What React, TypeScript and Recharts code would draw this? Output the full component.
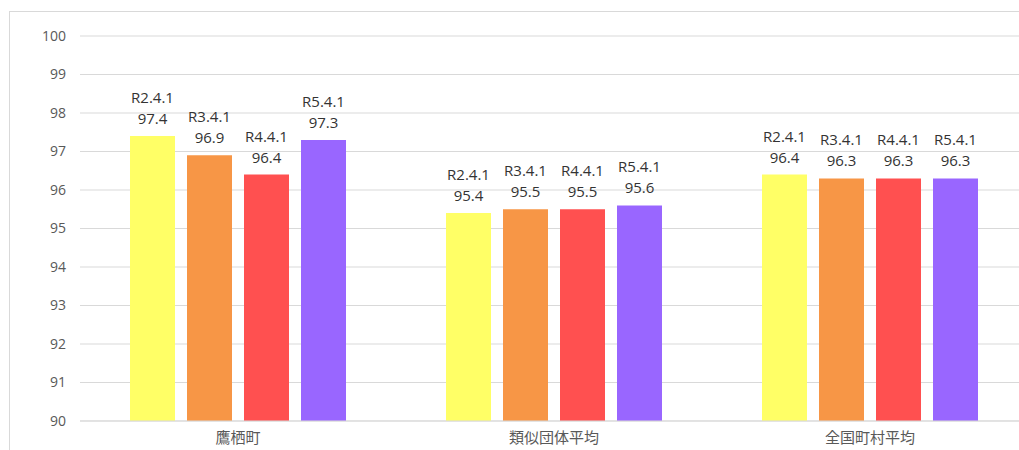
import React from 'react';
import { BarChart, Bar, XAxis, YAxis, CartesianGrid, LabelList } from 'recharts';

// 住民基本台帳 -- values
const categories = ['鷹栖町', '類似団体平均', '全国町村平均'];
const periods = ['R2.4.1', 'R3.4.1', 'R4.4.1', 'R5.4.1'];
const r2Values = [97.4, 95.4, 96.4];
const r3Values = [96.9, 95.5, 96.3];
const r4Values = [96.4, 95.5, 96.3];
const r5Values = [97.3, 95.6, 96.3];
const yTicks = [90, 91, 92, 93, 94, 95, 96, 97, 98, 99, 100];

const COLORS = ['#FFFF66', '#F79646', '#FF5050', '#9966FF'];
const FONT = '"Open Sans", "Noto Sans CJK JP", sans-serif';

const seriesValues = [r2Values, r3Values, r4Values, r5Values];
const data = categories.map((name, i) => {
  const row: Record<string, string | number> = { name };
  periods.forEach((p, k) => {
    row[p] = seriesValues[k][i];
  });
  return row;
});

/* two-line label above each bar: period name, then value */
const makeLabel = (period: string) => (props: any) => {
  const { x, y, width, value } = props;
  const cx = Number(x) + Number(width) / 2;
  return (
    <text textAnchor="middle" fill="#333333" fontSize={15} fontFamily={FONT}>
      <tspan x={cx} y={Number(y) - 33}>{period}</tspan>
      <tspan x={cx} y={Number(y) - 12}>{Number(value).toFixed(1)}</tspan>
    </text>
  );
};

export default function App() {
  return (
    <div style={{ position: 'absolute', left: 0, top: 0, width: 1019, height: 450, overflow: 'hidden', background: '#fff' }}>
      {/* chart frame */}
      <div
        style={{
          position: 'absolute',
          left: 9,
          top: 11,
          width: 1040,
          height: 460,
          borderLeft: '1px solid #d9d9d9',
          borderTop: '1px solid #d9d9d9',
        }}
      />
      <div style={{ position: 'absolute', left: 0, top: 0 }}>
        <BarChart
          width={1028}
          height={450}
          data={data}
          margin={{ top: 36, right: 0, bottom: 0, left: 0 }}
          barGap={12}
          barSize={45}
        >
          <CartesianGrid vertical={false} stroke="#d9d9d9" strokeWidth={1} />
          <XAxis
            dataKey="name"
            height={29}
            tickLine={false}
            tickSize={0}
            tickMargin={11}
            axisLine={{ stroke: '#d9d9d9' }}
            tick={{ fontSize: 15, fill: '#595959', fontFamily: FONT }}
            interval={0}
          />
          <YAxis
            width={80}
            domain={[90, 100]}
            ticks={yTicks}
            allowDataOverflow
            axisLine={false}
            tickLine={false}
            tickSize={0}
            tickMargin={14}
            tick={{ fontSize: 14, fill: '#595959', fontFamily: FONT }}
          />
          {periods.map((p, k) => (
            <Bar key={p} dataKey={p} fill={COLORS[k]} isAnimationActive={false}>
              <LabelList dataKey={p} content={makeLabel(p)} />
            </Bar>
          ))}
        </BarChart>
      </div>
    </div>
  );
}
